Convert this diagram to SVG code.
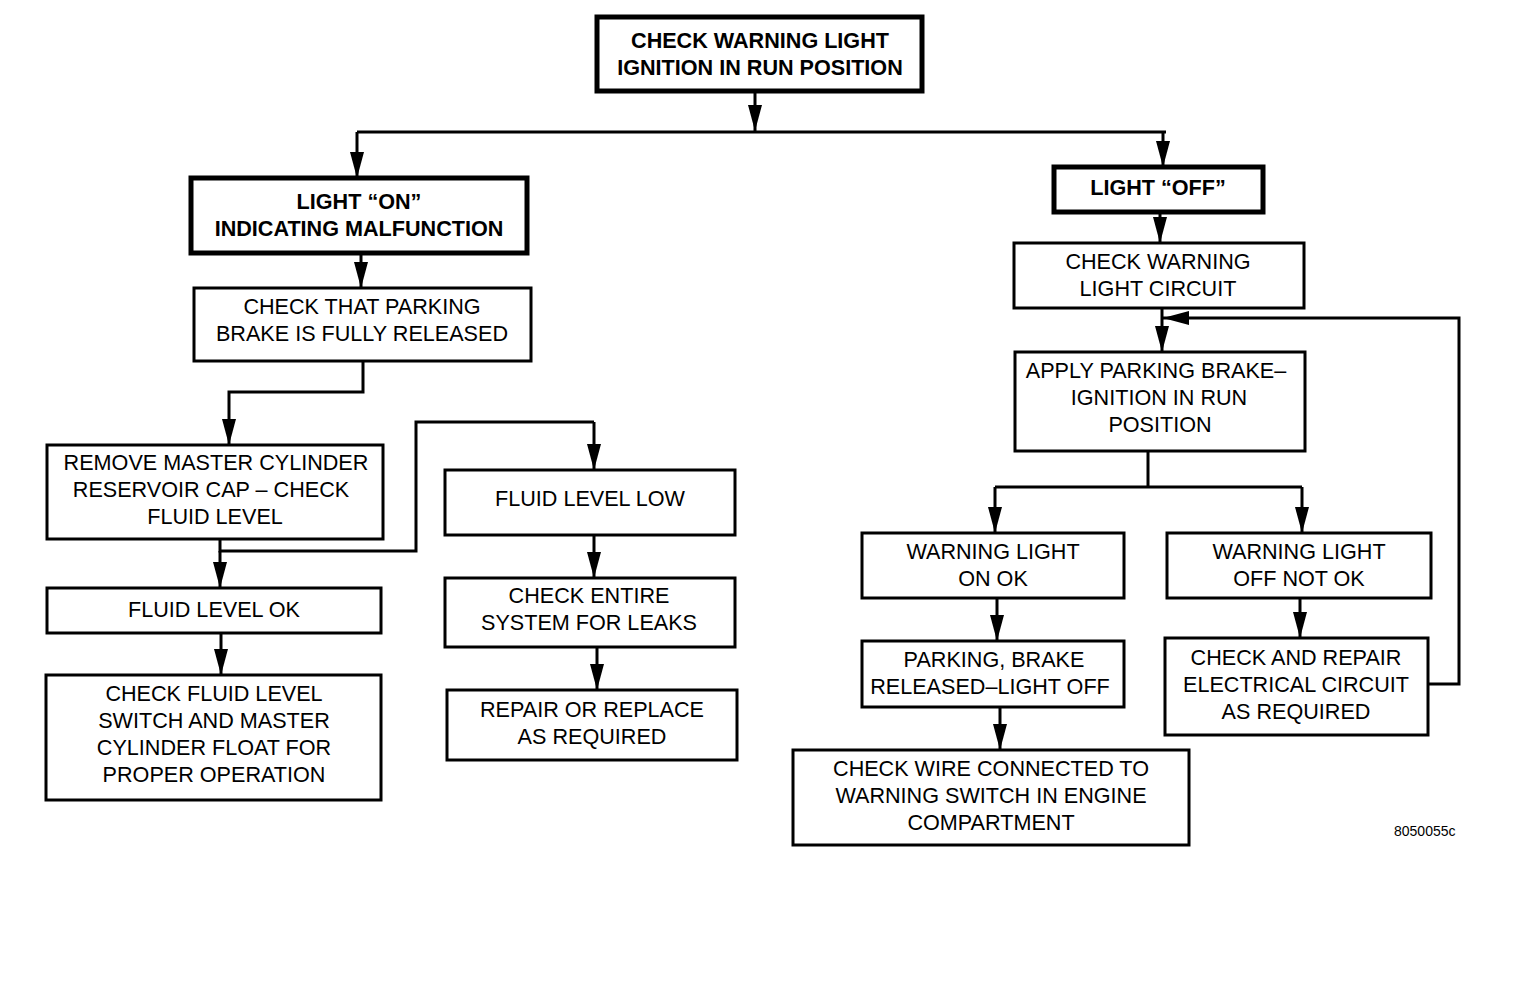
<svg xmlns="http://www.w3.org/2000/svg" width="1520" height="1000" viewBox="0 0 1520 1000">
<defs>
<marker id="ah" viewBox="0 0 26 14" refX="26" refY="7" markerWidth="26" markerHeight="14" markerUnits="userSpaceOnUse" orient="auto">
<path d="M0,0 L26,7 L0,14 z" fill="#000"/>
</marker>
</defs>
<style>
.box{fill:#fff;stroke:#000;stroke-width:3}
.thick{fill:#fff;stroke:#000;stroke-width:5}
.t{font-family:"Liberation Sans",Arial,Helvetica,sans-serif;font-size:21.6px;fill:#000;text-anchor:middle}
.b{font-weight:bold}
.c{fill:none;stroke:#000;stroke-width:3}
.a{marker-end:url(#ah)}
.id{font-family:"Liberation Sans",Arial,sans-serif;font-size:14px;fill:#000}
</style>
<rect width="1520" height="1000" fill="#fff"/>
<g id="connectors">
<path class="c a" d="M755,91 V131"/>
<path class="c" d="M357,132 H1166"/>
<path class="c a" d="M357,132 V178"/>
<path class="c a" d="M1163,132 V167"/>
<path class="c a" d="M361,253 V288"/>
<path class="c a" d="M363,361 V392 H229 V445"/>
<path class="c" d="M220,539 V551 H416 V422 H594"/>
<path class="c a" d="M594,422 V470"/>
<path class="c a" d="M220,551 V588"/>
<path class="c a" d="M594,535 V578"/>
<path class="c a" d="M597,647 V690"/>
<path class="c a" d="M221,633 V675"/>
<path class="c a" d="M1160,212 V243"/>
<path class="c a" d="M1162,308 V352"/>
<path class="c a" d="M1428,684 H1459 V318 H1163"/>
<path class="c" d="M1148,451 V487"/>
<path class="c" d="M995,487 H1302"/>
<path class="c a" d="M995,487 V533"/>
<path class="c a" d="M1302,487 V533"/>
<path class="c a" d="M997,598 V641"/>
<path class="c a" d="M1300,598 V638"/>
<path class="c a" d="M1000,707 V750"/>
</g>
<g id="n-top">
<rect class="thick" x="597" y="17" width="325" height="74"/>
<text class="t b" x="760" y="48">CHECK WARNING LIGHT</text>
<text class="t b" x="760" y="75">IGNITION IN RUN POSITION</text>
</g>
<g id="n-on">
<rect class="thick" x="191" y="178" width="336" height="75"/>
<text class="t b" x="359" y="209">LIGHT “ON”</text>
<text class="t b" x="359" y="236">INDICATING MALFUNCTION</text>
</g>
<g id="n-parking">
<rect class="box" x="194" y="288" width="337" height="73"/>
<text class="t" x="362" y="314">CHECK THAT PARKING</text>
<text class="t" x="362" y="341">BRAKE IS FULLY RELEASED</text>
</g>
<g id="n-remove">
<rect class="box" x="47" y="445" width="336" height="94"/>
<text class="t" x="216" y="470">REMOVE MASTER CYLINDER</text>
<text class="t" x="211" y="497">RESERVOIR CAP – CHECK</text>
<text class="t" x="215" y="524">FLUID LEVEL</text>
</g>
<g id="n-ok">
<rect class="box" x="47" y="588" width="334" height="45"/>
<text class="t" x="214" y="617">FLUID LEVEL OK</text>
</g>
<g id="n-checkfloat">
<rect class="box" x="46" y="675" width="335" height="125"/>
<text class="t" x="214" y="701">CHECK FLUID LEVEL</text>
<text class="t" x="214" y="728">SWITCH AND MASTER</text>
<text class="t" x="214" y="755">CYLINDER FLOAT FOR</text>
<text class="t" x="214" y="782">PROPER OPERATION</text>
</g>
<g id="n-low">
<rect class="box" x="445" y="470" width="290" height="65"/>
<text class="t" x="590" y="506">FLUID LEVEL LOW</text>
</g>
<g id="n-leaks">
<rect class="box" x="445" y="578" width="290" height="69"/>
<text class="t" x="589" y="603">CHECK ENTIRE</text>
<text class="t" x="589" y="630">SYSTEM FOR LEAKS</text>
</g>
<g id="n-repair">
<rect class="box" x="447" y="690" width="290" height="70"/>
<text class="t" x="592" y="717">REPAIR OR REPLACE</text>
<text class="t" x="592" y="744">AS REQUIRED</text>
</g>
<g id="n-off">
<rect class="thick" x="1054" y="167" width="209" height="45"/>
<text class="t b" x="1158" y="195">LIGHT “OFF”</text>
</g>
<g id="n-circuit">
<rect class="box" x="1014" y="243" width="290" height="65"/>
<text class="t" x="1158" y="269">CHECK WARNING</text>
<text class="t" x="1158" y="296">LIGHT CIRCUIT</text>
</g>
<g id="n-apply">
<rect class="box" x="1015" y="352" width="290" height="99"/>
<text class="t" x="1156" y="378">APPLY PARKING BRAKE–</text>
<text class="t" x="1159" y="405">IGNITION IN RUN</text>
<text class="t" x="1160" y="432">POSITION</text>
</g>
<g id="n-onok">
<rect class="box" x="862" y="533" width="262" height="65"/>
<text class="t" x="993" y="559">WARNING LIGHT</text>
<text class="t" x="993" y="586">ON OK</text>
</g>
<g id="n-offnotok">
<rect class="box" x="1167" y="533" width="264" height="65"/>
<text class="t" x="1299" y="559">WARNING LIGHT</text>
<text class="t" x="1299" y="586">OFF NOT OK</text>
</g>
<g id="n-released">
<rect class="box" x="862" y="641" width="262" height="66"/>
<text class="t" x="994" y="667">PARKING, BRAKE</text>
<text class="t" x="990" y="694">RELEASED–LIGHT OFF</text>
</g>
<g id="n-electrical">
<rect class="box" x="1165" y="638" width="263" height="97"/>
<text class="t" x="1296" y="665">CHECK AND REPAIR</text>
<text class="t" x="1296" y="692">ELECTRICAL CIRCUIT</text>
<text class="t" x="1296" y="719">AS REQUIRED</text>
</g>
<g id="n-wire">
<rect class="box" x="793" y="750" width="396" height="95"/>
<text class="t" x="991" y="776">CHECK WIRE CONNECTED TO</text>
<text class="t" x="991" y="803">WARNING SWITCH IN ENGINE</text>
<text class="t" x="991" y="830">COMPARTMENT</text>
</g>
<text class="id" x="1394" y="836">8050055c</text>
</svg>
